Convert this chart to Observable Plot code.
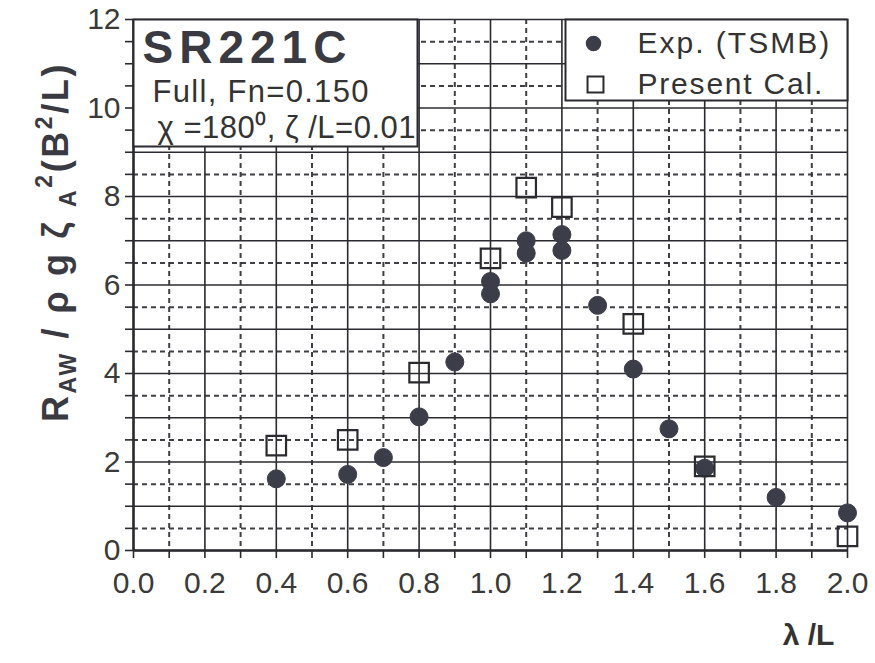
<!DOCTYPE html>
<html>
<head>
<meta charset="utf-8">
<script src="https://cdn.jsdelivr.net/npm/d3@7"></script>
<script src="https://cdn.jsdelivr.net/npm/@observablehq/plot@0.6"></script>
<style>
  html, body { margin: 0; padding: 0; background: #fff; }
  svg { display: block; }
</style>
</head>
<body>
<div id="chart"></div>
<script>
// Exp. (TSMB) — filled circles
const expX = [0.4, 0.6, 0.7, 0.8, 0.9, 1.0, 1.0, 1.1, 1.1, 1.2, 1.2, 1.3, 1.4, 1.5, 1.6, 1.8, 2.0];
const expY = [1.62, 1.72, 2.1, 3.02, 4.26, 6.08, 5.8, 7.0, 6.72, 7.14, 6.78, 5.54, 4.1, 2.75, 1.86, 1.2, 0.85];
// Present Cal. — open squares
const calX = [0.4, 0.6, 0.8, 1.0, 1.1, 1.2, 1.4, 1.6, 2.0];
const calY = [2.37, 2.5, 4.02, 6.6, 8.2, 7.76, 5.12, 1.9, 0.32];

// ticks / grid
const xMajor = [0.0, 0.2, 0.4, 0.6, 0.8, 1.0, 1.2, 1.4, 1.6, 1.8, 2.0];
const xMinor = [0.1, 0.3, 0.5, 0.7, 0.9, 1.1, 1.3, 1.5, 1.7, 1.9];
const yLabels = [0, 2, 4, 6, 8, 10, 12];
const yMajor = [0, 1, 2, 3, 4, 5, 6, 7, 8, 9, 10, 11, 12];
const yMinor = [0.5, 1.5, 2.5, 3.5, 4.5, 5.5, 6.5, 7.5, 8.5, 9.5, 10.5, 11.5];

const legendLabels = ["Exp. (TSMB)", "Present Cal."];
const titleLines = ["SR221C", "Full, Fn=0.150", "\u03C7 =180\u2070, \u03B6 /L=0.01"];

const exp = expX.map((x, i) => ({x, y: expY[i]}));
const cal = calX.map((x, i) => ({x, y: calY[i]}));

const INK = "#2a2a30";
const FONT = "Liberation Sans, Arial, sans-serif";

const chart = Plot.plot({
  width: 875,
  height: 663,
  marginLeft: 133,
  marginRight: 28,
  marginTop: 19,
  marginBottom: 113,
  style: {fontFamily: FONT, background: "#fff", color: INK},
  x: {domain: [0, 2], label: null},
  y: {domain: [0, 12], label: null},
  marks: [
    // dashed minor grid
    Plot.gridX(xMinor, {stroke: INK, strokeOpacity: 0.9, strokeWidth: 2, strokeDasharray: "5,4"}),
    Plot.gridY(yMinor, {stroke: INK, strokeOpacity: 0.9, strokeWidth: 2, strokeDasharray: "5,4"}),
    // solid major grid
    Plot.gridX(xMajor, {stroke: INK, strokeOpacity: 1, strokeWidth: 1.6}),
    Plot.gridY(yMajor, {stroke: INK, strokeOpacity: 1, strokeWidth: 1.6}),
    // axis lines
    Plot.ruleY([0], {stroke: INK, strokeWidth: 2.5}),
    Plot.ruleX([0], {stroke: INK, strokeWidth: 2.5}),
    // tick marks
    Plot.axisX(xMajor.concat(xMinor), {tickSize: 8, tickFormat: () => "", stroke: INK, strokeWidth: 1.6}),
    Plot.axisY(yMajor.concat(yMinor), {tickSize: 8, tickFormat: () => "", stroke: INK, strokeWidth: 1.6}),
    // tick labels
    Plot.axisX(xMajor, {tickSize: 0, tickPadding: 21, fontSize: 30, tickFormat: d3.format(".1f"), fill: "#3a3a3a"}),
    Plot.axisY(yLabels, {tickSize: 0, tickPadding: 13, fontSize: 30, tickFormat: d3.format("d"), fill: "#3a3a3a"}),
    // title box
    Plot.frame({fill: "#fff", stroke: INK, strokeWidth: 2, insetRight: 430, insetBottom: 404}),
    Plot.text([titleLines[0]], {frameAnchor: "top-left", lineAnchor: "middle", dx: 9, dy: 29, textAnchor: "start", fontSize: 46, fontWeight: "bold", fill: "#3a3a42"}),
    Plot.text([titleLines[1]], {frameAnchor: "top-left", lineAnchor: "middle", dx: 19, dy: 73, textAnchor: "start", fontSize: 31, fill: "#333"}),
    Plot.text([titleLines[2]], {frameAnchor: "top-left", lineAnchor: "middle", dx: 24, dy: 109, textAnchor: "start", fontSize: 31, fill: "#333"}),
    // legend box
    Plot.frame({fill: "#fff", stroke: INK, strokeWidth: 2, insetLeft: 432, insetBottom: 450}),
    Plot.dot([legendLabels[0]], {frameAnchor: "top-right", dx: -254, dy: 24, r: 7, fill: "#3b3d48", stroke: "#3b3d48"}),
    Plot.dot([legendLabels[1]], {frameAnchor: "top-right", dx: -252, dy: 65, r: 9, symbol: "square", fill: "none", stroke: INK, strokeWidth: 2}),
    Plot.text([legendLabels[0]], {frameAnchor: "top-right", lineAnchor: "middle", dx: -210, dy: 24, textAnchor: "start", fontSize: 30, fill: "#333"}),
    Plot.text([legendLabels[1]], {frameAnchor: "top-right", lineAnchor: "middle", dx: -210, dy: 65, textAnchor: "start", fontSize: 30, fill: "#333"}),
    // data
    Plot.dot(exp, {x: "x", y: "y", r: 9, fill: "#3b3d48", stroke: "#3b3d48", strokeWidth: 1}),
    Plot.dot(cal, {x: "x", y: "y", r: 11, symbol: "square", fill: "none", stroke: INK, strokeWidth: 2.2}),
    // x label
    Plot.text(["\u03BB /L"], {frameAnchor: "bottom-right", lineAnchor: "middle", dx: -39, dy: 85, textAnchor: "middle", fontSize: 30, fontWeight: "bold", fill: "#333"})
  ]
});

// widen some texts to match the reference's letter spacing
const spacing = new Map([
  [titleLines[0], 6], [titleLines[1], 1.3], [titleLines[2], 0.5],
  [legendLabels[0], 2], [legendLabels[1], 1.8]
]);
d3.select(chart).selectAll("text").each(function() {
  const s = spacing.get(this.textContent);
  if (s != null) d3.select(this).attr("letter-spacing", s);
});

// y-axis label with sub/superscripts
const yl = d3.select(chart).append("text")
  .attr("transform", "translate(68,242) rotate(-90)")
  .attr("text-anchor", "middle")
  .attr("font-family", FONT)
  .attr("font-weight", "bold")
  .attr("font-size", 36)
  .attr("fill", "#3a3a42")
  .attr("letter-spacing", 2.6);
yl.append("tspan").text("R");
yl.append("tspan").attr("font-size", 23).attr("dy", 8).text("AW");
yl.append("tspan").attr("dy", -8).text(" / \u03C1 g \u03B6 ");
yl.append("tspan").attr("font-size", 23).attr("dy", 8).text("A");
yl.append("tspan").attr("font-size", 23).attr("dy", -24).text("2");
yl.append("tspan").attr("dy", 16).text("(B");
yl.append("tspan").attr("font-size", 23).attr("dy", -16).text("2");
yl.append("tspan").attr("dy", 16).text("/L)");

document.getElementById("chart").appendChild(chart);
</script>
</body>
</html>
